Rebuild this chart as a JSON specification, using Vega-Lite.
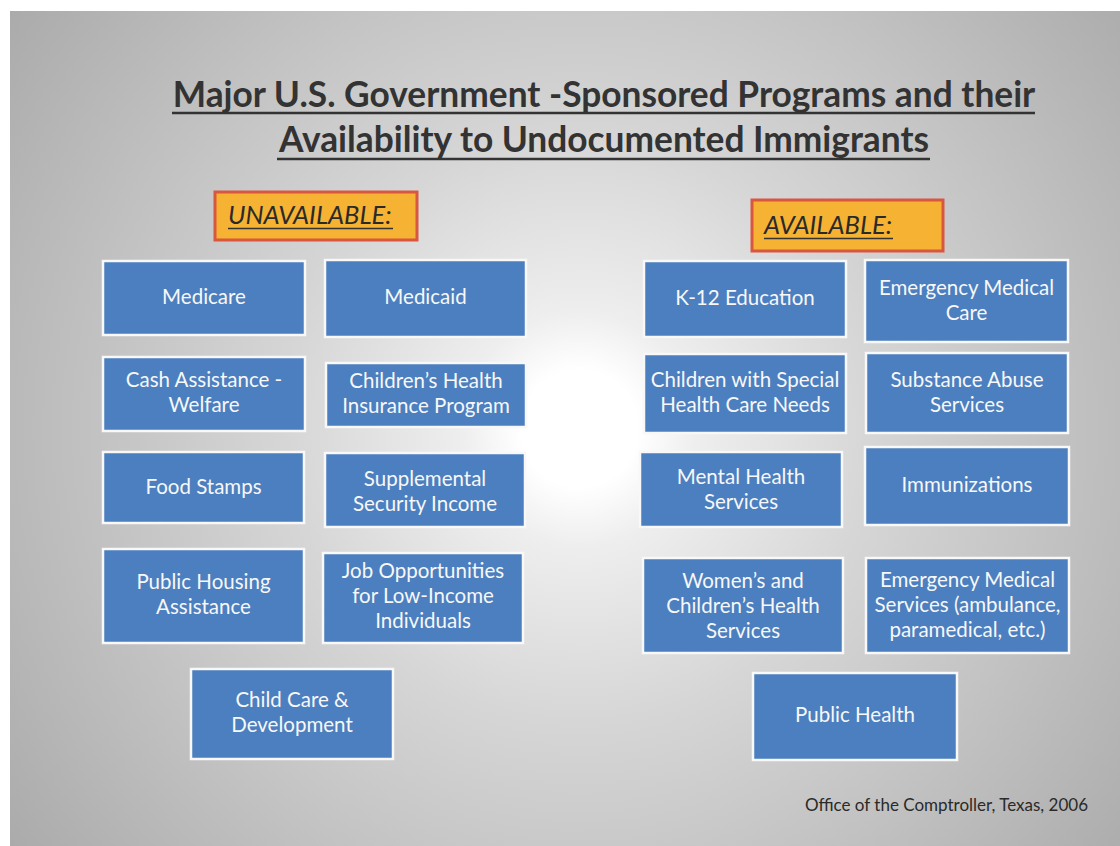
{
  "$schema": "https://vega.github.io/schema/vega-lite/v6.json",
  "autosize": {"type": "fit", "contains": "padding"},
  "width": 1120,
  "height": 846,
  "padding": 0,
  "background": "#ffffff",
  "config": {"view": {"stroke": null}},
  "datasets": {
    "slide": [{"x0": 10, "x1": 1120, "y0": 11, "y1": 846}],
    "boxes": [
      {"program": "Medicare", "status": "Unavailable", "x0": 103, "x1": 305, "y0": 261, "y1": 335, "xc": 204, "ty": 298},
      {"program": "Medicaid", "status": "Unavailable", "x0": 325, "x1": 526, "y0": 260, "y1": 337, "xc": 425.5, "ty": 298},
      {"program": "Cash Assistance -\nWelfare", "status": "Unavailable", "x0": 103, "x1": 305, "y0": 357, "y1": 431, "xc": 204, "ty": 381},
      {"program": "Children’s Health\nInsurance Program", "status": "Unavailable", "x0": 326, "x1": 526, "y0": 363, "y1": 427, "xc": 426, "ty": 382},
      {"program": "Food Stamps", "status": "Unavailable", "x0": 103, "x1": 304, "y0": 452, "y1": 523, "xc": 203.5, "ty": 488},
      {"program": "Supplemental\nSecurity Income", "status": "Unavailable", "x0": 325, "x1": 525, "y0": 453, "y1": 527, "xc": 425, "ty": 480},
      {"program": "Public Housing\nAssistance", "status": "Unavailable", "x0": 103, "x1": 304, "y0": 549, "y1": 643, "xc": 203.5, "ty": 583},
      {"program": "Job Opportunities\nfor Low-Income\nIndividuals", "status": "Unavailable", "x0": 323, "x1": 523, "y0": 553, "y1": 643, "xc": 423, "ty": 572},
      {"program": "Child Care &\nDevelopment", "status": "Unavailable", "x0": 191, "x1": 393, "y0": 669, "y1": 759, "xc": 292, "ty": 701},
      {"program": "K-12 Education", "status": "Available", "x0": 644, "x1": 846, "y0": 261, "y1": 337, "xc": 745, "ty": 299},
      {"program": "Emergency Medical\nCare", "status": "Available", "x0": 865, "x1": 1068, "y0": 260, "y1": 342, "xc": 966.5, "ty": 289},
      {"program": "Children with Special\nHealth Care Needs", "status": "Available", "x0": 644, "x1": 846, "y0": 354, "y1": 433, "xc": 745, "ty": 381},
      {"program": "Substance Abuse\nServices", "status": "Available", "x0": 866, "x1": 1068, "y0": 353, "y1": 433, "xc": 967, "ty": 381},
      {"program": "Mental Health\nServices", "status": "Available", "x0": 640, "x1": 842, "y0": 452, "y1": 527, "xc": 741, "ty": 478},
      {"program": "Immunizations", "status": "Available", "x0": 865, "x1": 1069, "y0": 447, "y1": 525, "xc": 967, "ty": 486},
      {"program": "Women’s and\nChildren’s Health\nServices", "status": "Available", "x0": 643, "x1": 843, "y0": 558, "y1": 653, "xc": 743, "ty": 582},
      {"program": "Emergency Medical\nServices (ambulance,\nparamedical, etc.)", "status": "Available", "x0": 866, "x1": 1069, "y0": 558, "y1": 653, "xc": 967.5, "ty": 581},
      {"program": "Public Health", "status": "Available", "x0": 753, "x1": 957, "y0": 673, "y1": 760, "xc": 855, "ty": 716}
    ],
    "headers": [
      {"label": "UNAVAILABLE:", "x0": 215, "x1": 417, "y0": 192, "y1": 240, "tx": 228, "ty": 224},
      {"label": "AVAILABLE:", "x0": 752, "x1": 943, "y0": 200, "y1": 251, "tx": 764, "ty": 234}
    ],
    "underlines": [
      {"part": "title1", "x0": 172, "x1": 1035, "y": 113, "w": 2.5},
      {"part": "title2", "x0": 277, "x1": 930, "y": 159, "w": 2.5},
      {"part": "unavailable", "x0": 228, "x1": 393, "y": 228.5, "w": 1.5},
      {"part": "available", "x0": 764, "x1": 893, "y": 238.5, "w": 1.5}
    ],
    "title": [
      {"line": "Major U.S. Government -Sponsored Programs and their", "xc": 604, "y": 107},
      {"line": "Availability to Undocumented Immigrants", "xc": 604, "y": 152}
    ],
    "source": [{"note": "Office of the Comptroller, Texas, 2006", "xr": 1088, "y": 811}]
  },
  "encoding": {},
  "layer": [
    {
      "data": {"name": "slide"},
      "mark": {
        "type": "rect",
        "fill": {
          "gradient": "radial",
          "x1": 0.513, "y1": 0.5, "r1": 0,
          "x2": 0.513, "y2": 0.5, "r2": 0.66,
          "stops": [
            {"offset": 0, "color": "#ffffff"},
            {"offset": 0.08, "color": "#ffffff"},
            {"offset": 0.16, "color": "#eeeeee"},
            {"offset": 0.4, "color": "#d6d6d6"},
            {"offset": 0.7, "color": "#bfbfbf"},
            {"offset": 1, "color": "#a8a8a8"}
          ]
        }
      },
      "encoding": {
        "x": {"field": "x0", "type": "quantitative", "scale": {"domain": [0, 1120], "nice": false, "zero": false}, "axis": null},
        "x2": {"field": "x1"},
        "y": {"field": "y0", "type": "quantitative", "scale": {"domain": [0, 846], "nice": false, "zero": false, "reverse": true}, "axis": null},
        "y2": {"field": "y1"}
      }
    },
    {
      "data": {"name": "boxes"},
      "mark": {"type": "rect", "fill": "#4c7fbf", "stroke": "#f8f8f8", "strokeWidth": 2.5},
      "encoding": {
        "x": {"field": "x0", "type": "quantitative"},
        "x2": {"field": "x1"},
        "y": {"field": "y0", "type": "quantitative"},
        "y2": {"field": "y1"}
      }
    },
    {
      "data": {"name": "boxes"},
      "mark": {"type": "text", "font": "Lato", "fontSize": 20.5, "color": "#f7f7f7", "align": "center", "baseline": "middle", "lineBreak": "\n", "lineHeight": 25},
      "encoding": {
        "x": {"field": "xc", "type": "quantitative"},
        "y": {"field": "ty", "type": "quantitative"},
        "text": {"field": "program"}
      }
    },
    {
      "data": {"name": "headers"},
      "mark": {"type": "rect", "fill": "#f6b233", "stroke": "#d9573e", "strokeWidth": 3},
      "encoding": {
        "x": {"field": "x0", "type": "quantitative"},
        "x2": {"field": "x1"},
        "y": {"field": "y0", "type": "quantitative"},
        "y2": {"field": "y1"}
      }
    },
    {
      "data": {"name": "headers"},
      "mark": {"type": "text", "font": "Lato", "fontSize": 25.5, "fontStyle": "italic", "color": "#2a2a2a", "align": "left", "baseline": "alphabetic"},
      "encoding": {
        "x": {"field": "tx", "type": "quantitative"},
        "y": {"field": "ty", "type": "quantitative"},
        "text": {"field": "label"}
      }
    },
    {
      "data": {"name": "title"},
      "mark": {"type": "text", "font": "Lato", "fontSize": 35.3, "fontWeight": "bold", "color": "#333333", "align": "center", "baseline": "alphabetic"},
      "encoding": {
        "x": {"field": "xc", "type": "quantitative"},
        "y": {"field": "y", "type": "quantitative"},
        "text": {"field": "line"}
      }
    },
    {
      "data": {"name": "underlines"},
      "mark": {"type": "rule", "color": "#333333"},
      "encoding": {
        "x": {"field": "x0", "type": "quantitative"},
        "x2": {"field": "x1"},
        "y": {"field": "y", "type": "quantitative"},
        "strokeWidth": {"field": "w", "type": "quantitative", "scale": null}
      }
    },
    {
      "data": {"name": "source"},
      "mark": {"type": "text", "font": "Lato", "fontSize": 17, "color": "#2a2a2a", "align": "right", "baseline": "alphabetic"},
      "encoding": {
        "x": {"field": "xr", "type": "quantitative"},
        "y": {"field": "y", "type": "quantitative"},
        "text": {"field": "note"}
      }
    }
  ]
}
